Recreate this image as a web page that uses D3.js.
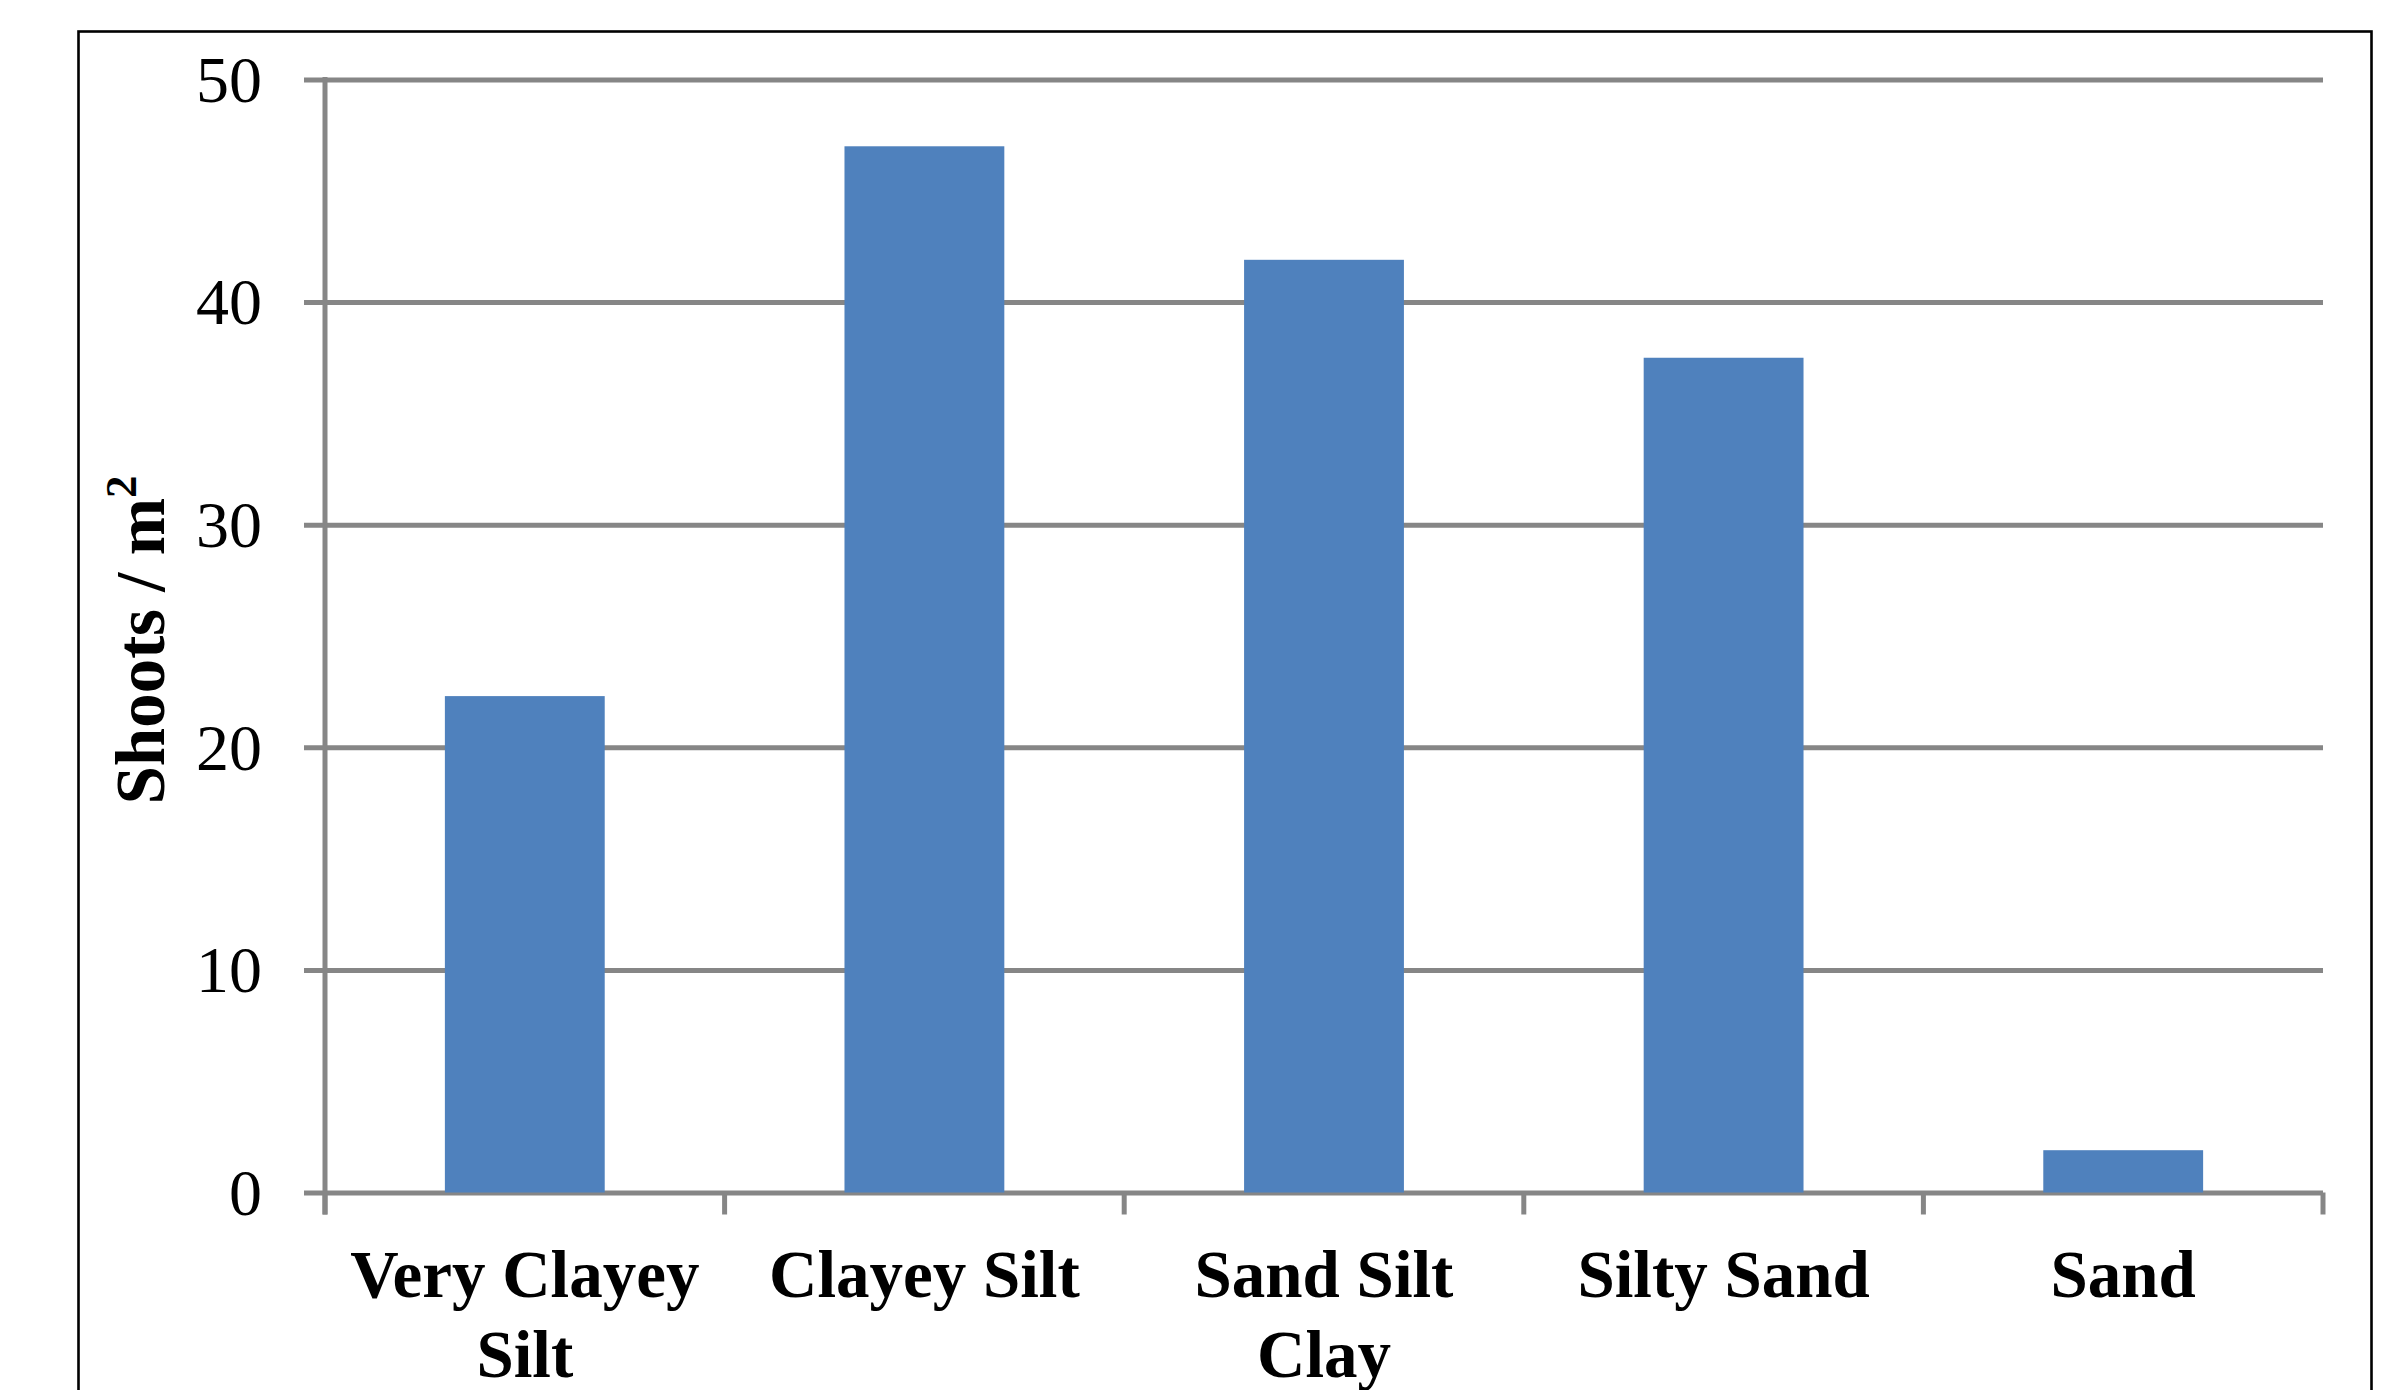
<!DOCTYPE html>
<html>
<head>
<meta charset="utf-8">
<script src="https://cdn.jsdelivr.net/npm/d3@7"></script>
<style>
  html, body { margin: 0; padding: 0; background: #ffffff; overflow: hidden; }
  text { font-family: "Liberation Serif", "Times New Roman", serif; fill: #000; }
</style>
</head>
<body>
<svg id="chart" width="2391" height="1390"></svg>
<script>
// Shoot density by sediment type
const categories = ["Very Clayey Silt", "Clayey Silt", "Sand Silt Clay", "Silty Sand", "Sand"];
const shoots = [22.3, 47.0, 41.9, 37.5, 1.9];
const yTicks = [0, 10, 20, 30, 40, 50];
const yTitle = "Shoots / m";
const yTitleSup = "2";

const W = 2391, H = 1390;
const plot = { left: 325, right: 2323, top: 79.5, bottom: 1192.5 };
const gridColor = "#868686";
const barColor = "#4F81BD";
const tickOut = 21;
const lineW = 5;

const svg = d3.select("#chart");

// frame around the whole figure
svg.append("rect")
  .attr("x", 78.5).attr("y", 31.5)
  .attr("width", 2293).attr("height", 1420)
  .attr("fill", "none").attr("stroke", "#000").attr("stroke-width", 2.6);

const x = d3.scaleBand()
  .domain(categories)
  .range([plot.left, plot.right])
  .paddingInner(0.6)
  .paddingOuter(0.3);

const y = d3.scaleLinear()
  .domain([0, 50])
  .range([plot.bottom, plot.top]);

// y axis: gridlines run from the outside tick mark across the plot
const yAxis = d3.axisLeft(y)
  .tickValues(yTicks)
  .tickSize(-(plot.right - plot.left + tickOut))
  .tickPadding(42)
  .tickFormat(d3.format("d"));

const gy = svg.append("g")
  .attr("transform", `translate(${plot.left - tickOut},0)`)
  .call(yAxis);
gy.select(".domain").remove();
gy.selectAll(".tick line")
  .attr("stroke", gridColor).attr("stroke-width", lineW);
gy.selectAll(".tick text")
  .attr("font-family", "Liberation Serif, serif")
  .attr("font-size", 66)
  .attr("fill", "#000")
  .attr("dy", "0.33em");

// bars
svg.append("g").selectAll("rect")
  .data(shoots)
  .join("rect")
  .attr("x", (d, i) => x(categories[i]))
  .attr("width", x.bandwidth())
  .attr("y", d => y(d))
  .attr("height", d => y(0) - y(d))
  .attr("fill", barColor);

// vertical axis line (continues below the baseline as the first tick)
svg.append("line")
  .attr("x1", plot.left).attr("x2", plot.left)
  .attr("y1", y(50) - 2.5).attr("y2", plot.bottom + tickOut + 1)
  .attr("stroke", gridColor).attr("stroke-width", lineW);

// category boundary ticks on the x axis
const step = x.step();
const boundaries = categories.map(c => x(c) - step * x.paddingOuter())
  .concat([plot.right]);
svg.append("g").selectAll("line")
  .data(boundaries)
  .join("line")
  .attr("x1", d => d).attr("x2", d => d)
  .attr("y1", plot.bottom).attr("y2", plot.bottom + tickOut + 1)
  .attr("stroke", gridColor).attr("stroke-width", lineW);

// x axis category labels, wrapped to fit each band
const xAxis = d3.axisBottom(x).tickSize(0).tickPadding(0);
const gx = svg.append("g")
  .attr("transform", `translate(0,${plot.bottom})`)
  .call(xAxis);
gx.select(".domain").remove();
gx.selectAll(".tick text").each(function (d) {
  const t = d3.select(this);
  t.text(null)
    .attr("y", 0).attr("dy", null)
    .attr("font-family", "Liberation Serif, serif")
    .attr("font-weight", "bold")
    .attr("font-size", 67)
    .attr("fill", "#000");
  const words = d.split(" ");
  const maxW = step * 0.97;
  const lines = [];
  let cur = [];
  const probe = t.append("tspan");
  words.forEach(w => {
    const trial = cur.concat([w]).join(" ");
    probe.text(trial);
    if (cur.length && probe.node().getComputedTextLength() > maxW) {
      lines.push(cur.join(" "));
      cur = [w];
    } else {
      cur.push(w);
    }
  });
  lines.push(cur.join(" "));
  probe.remove();
  lines.forEach((ln, i) => {
    t.append("tspan").attr("x", 0).attr("y", 104.5 + i * 80).text(ln);
  });
});

// y axis title
const title = svg.append("text")
  .attr("transform", `translate(164,640) rotate(-90)`)
  .attr("text-anchor", "middle")
  .attr("font-family", "Liberation Serif, serif")
  .attr("font-weight", "bold")
  .attr("font-size", 69);
title.append("tspan").text(yTitle);
title.append("tspan").attr("font-size", 45).attr("dy", -28).text(yTitleSup);
</script>
</body>
</html>
